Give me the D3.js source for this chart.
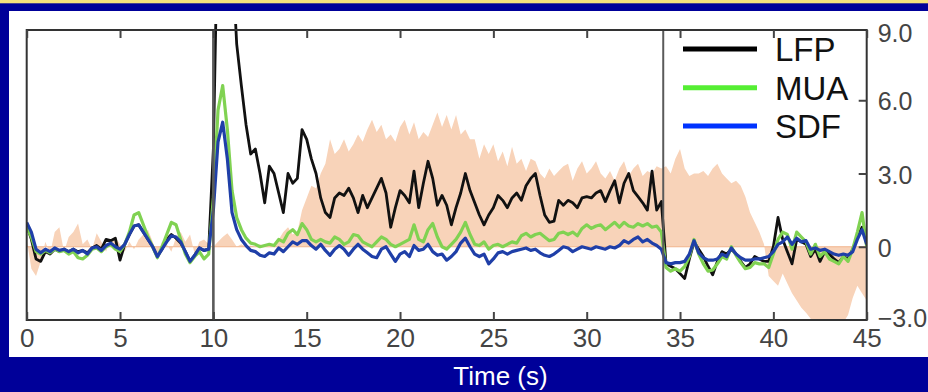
<!DOCTYPE html>
<html><head><meta charset="utf-8">
<script src="https://cdn.jsdelivr.net/npm/d3@7"></script>
<style>html,body{margin:0;padding:0;background:#000099;} svg{display:block;}</style>
</head><body><svg id="c" width="928" height="392"></svg>
<script>
// ---------- data ----------
const xTicks = [0,5,10,15,20,25,30,35,40,45];
const yTicks = [-3,0,3,6,9];
const yTickLabels = ["\u22123.0","0","3.0","6.0","9.0"];
const seriesNames = ["LFP","MUA","SDF"];
const markerTimes = [10, 34.1];
const sampleStep = 0.25; // seconds between samples, t = 0 .. 45

const lfp = [
 0.9,0.3,-0.5,-0.6, -0.2,-0.3,-0.1,-0.2, -0.1,-0.2,-0.1,-0.2, -0.15,-0.25,-0.05,0.05, -0.1,0.3,0.25,0.35,
 -0.55,0.1,0.5,0.85, 0.9,0.6,0.3,0.0, -0.4,-0.1,0.3,0.5, 0.35,0.15,-0.2,-0.6, -0.35,-0.05,-0.15,-0.1,
 4.0,14,20,18, 12,8.3,6.6,5.0, 3.8,4.0,3.0,1.8, 3.3,3.0,2.2,1.4, 3.0,2.6,2.8,4.8,
 4.4,3.6,3.0,2.0, 1.4,1.2,2.0,2.2, 2.1,2.4,2.0,1.4, 2.1,1.6,2.0,2.4, 2.8,2.2,0.8,1.6,
 2.3,2.1,1.8,3.1, 1.6,2.6,3.5,2.8, 1.7,2.1,1.7,0.9, 1.6,2.2,3.0,2.3, 1.8,1.3,0.9,1.3,
 1.6,2.1,1.9,1.6, 2.0,2.2,1.9,2.5, 2.8,3.0,2.1,1.3, 1.0,1.05,1.9,1.7, 1.9,1.8,1.6,2.0,
 2.05,2.0,2.2,2.3, 1.85,2.3,2.7,1.8, 2.6,3.0,2.3,2.05, 1.8,1.5,3.1,1.5, 1.85,-0.7,-0.8,-0.9,
 -1.1,-1.3,-0.5,0.2, -0.1,-0.4,-0.8,-1.15, -0.6,-0.2,-0.3,-0.1, -0.3,-0.6,-0.85,-0.7, -0.4,-0.5,-0.6,-0.6,
 0.0,1.2,0.3,-0.2, -0.7,0.3,0.2,0.1, -0.4,-0.1,-0.6,-0.2, -0.3,-0.5,-0.65,-0.4, -0.5,-0.1,0.4,0.8,
 0.2
];
const mua = [
 0.8,0.4,-0.2,-0.3, -0.15,-0.25,-0.1,-0.2, -0.15,-0.3,-0.2,-0.45, -0.5,-0.35,-0.1,-0.05, -0.2,0.0,0.1,-0.1,
 -0.2,0.1,0.6,1.3, 1.4,0.9,0.4,0.0, -0.45,0.0,0.5,1.0, 0.9,0.3,-0.3,-0.65, -0.4,-0.2,-0.5,-0.3,
 2.0,5.6,6.6,4.8, 2.3,1.2,0.7,0.35, 0.15,0.1,0.0,0.05, 0.1,0.05,0.3,0.2, 0.55,0.7,0.5,0.95,
 0.7,0.3,0.2,0.3, 0.2,0.15,0.4,0.3, 0.1,0.2,0.5,0.45, 0.2,0.1,0.0,0.2, 0.4,0.3,0.1,0.0,
 0.1,0.2,0.3,0.9, 0.3,0.2,0.7,0.95, 0.4,0.0,-0.1,0.1, 0.3,0.6,1.0,0.5, 0.1,0.05,0.2,-0.1,
 0.05,0.1,0.0,0.1, 0.2,0.15,0.45,0.55, 0.4,0.5,0.55,0.4, 0.25,0.3,0.55,0.6, 0.5,0.6,0.45,0.75,
 0.9,0.75,0.85,0.9, 0.7,0.85,1.0,0.8, 1.0,0.85,0.8,0.95, 0.85,0.95,0.8,0.85, 0.6,-0.85,-1.0,-0.9,
 -1.0,-0.8,-0.4,0.3, -0.3,-0.7,-1.0,-0.95, -0.7,-0.4,-0.5,0.0, -0.35,-0.65,-0.9,-0.85, -0.65,-0.7,-0.7,-0.85,
 -0.3,0.3,0.6,0.5, -0.1,0.6,0.4,0.2, -0.3,0.1,-0.4,-0.2, -0.5,-0.6,-0.7,-0.4, -0.6,-0.1,0.6,1.4,
 0.0
];
const sdf = [
 1.0,0.6,-0.1,-0.25, -0.1,-0.2,-0.05,-0.15, -0.1,-0.2,-0.1,-0.25, -0.15,-0.3,-0.05,0.0, -0.15,0.05,0.15,0.0,
 -0.1,0.1,0.5,0.85, 0.9,0.6,0.3,0.0, -0.4,-0.1,0.2,0.45, 0.4,0.2,-0.2,-0.6, -0.35,-0.05,-0.15,-0.1,
 1.5,4.3,5.1,3.6, 1.4,0.7,0.3,0.05, -0.15,-0.2,-0.35,-0.4, -0.25,-0.3,-0.05,-0.2, 0.0,0.2,0.1,0.25,
 0.25,0.05,-0.1,0.1, -0.15,-0.35,-0.1,0.05, -0.1,-0.35,-0.1,0.1, -0.1,-0.25,-0.4,-0.45, -0.1,0.0,-0.3,-0.6,
 -0.3,-0.2,-0.4,0.05, -0.15,-0.1,0.1,-0.2, -0.35,-0.3,-0.55,-0.4, -0.2,0.15,0.35,0.0, -0.3,-0.4,-0.3,-0.7,
 -0.5,-0.25,-0.2,-0.3, -0.2,-0.15,-0.1,-0.05, -0.15,-0.1,-0.25,-0.35, -0.4,-0.3,-0.15,0.0, -0.05,-0.2,-0.1,0.0,
 -0.05,-0.1,0.0,-0.05, -0.1,0.0,-0.05,0.05, 0.25,0.15,0.3,0.4, 0.2,0.3,0.15,0.05, -0.1,-0.65,-0.7,-0.65,
 -0.65,-0.6,-0.3,0.25, -0.25,-0.45,-0.55,-0.55, -0.5,-0.3,-0.4,-0.05, -0.3,-0.45,-0.55,-0.55, -0.5,-0.5,-0.45,-0.4,
 -0.2,0.1,0.2,0.4, 0.1,0.35,0.2,0.25, -0.1,-0.05,-0.15,-0.1, -0.2,-0.3,-0.35,-0.3, -0.35,-0.2,0.3,0.7,
 0.1
];
const band = [
 0.3,-0.9,-1.2,-0.6, 0.2,-0.3,0.6,0.8, -0.2,0.4,0.6,0.95, 0.1,0.3,-0.1,0.55, 0.2,-0.2,0.3,0.4,
 0.1,-0.2,0.2,-0.1, 0.3,0.5,0.7,0.2, -0.3,0.2,0.1,-0.2, 0.4,0.6,0.2,0.5, -0.3,0.2,0.3,0.1,
 0.0,0.2,0.4,0.55, 0.3,0.0,0.1,0.0, 0.05,0.0,0.1,0.0, 0.0,0.1,0.3,0.6, 0.8,0.5,0.6,1.5,
 2.0,2.5,2.4,3.0, 3.4,4.4,3.8,4.0, 4.4,3.9,4.2,4.6, 4.3,4.8,5.2,4.7, 5.0,4.4,4.6,4.3,
 4.9,5.2,4.6,5.1, 4.4,4.7,4.5,5.0, 5.5,4.9,5.4,4.8, 5.4,4.6,4.8,4.4, 4.4,3.6,4.2,3.8,
 4.2,3.5,3.9,3.3, 4.1,3.4,3.6,3.1, 3.6,3.5,3.0,2.8, 3.2,2.9,3.1,3.3, 3.4,2.7,3.2,3.5,
 3.0,3.2,3.5,3.0, 2.8,3.1,2.7,3.2, 3.5,2.9,3.2,3.4, 2.9,3.1,3.0,3.3, 3.2,3.3,3.0,3.6,
 4.0,3.2,2.9,3.0, 3.0,3.1,2.9,3.2, 3.4,3.0,2.8,2.6, 2.7,2.5,2.05,1.4, 1.0,0.6,0.1,-1.2,
 -1.4,-1.6,-1.1,-1.5, -1.9,-2.2,-2.5,-2.7, -2.95,-3.3,-3.6,-3.8, -3.7,-3.5,-3.3,-3.1, -2.8,-2.1,-1.6,-1.9,
 -2.2
];

// ---------- layout ----------
const W = 928, H = 392;
const P = {left: 26.7, right: 866.7, top: 30, bottom: 320};
const svg = d3.select("#c");
const font = "'Liberation Sans', Arial, Helvetica, sans-serif";

svg.append("rect").attr("width", W).attr("height", H).attr("fill", "#000099");
svg.append("rect").attr("width", W).attr("height", 3.3).attr("fill", "#f6e27c");
svg.append("rect").attr("x", 9).attr("y", 11).attr("width", W - 9).attr("height", 346).attr("fill", "#ffffff");

const x = d3.scaleLinear().domain([0, 45]).range([P.left, P.right]);
const y = d3.scaleLinear().domain([-3, 9]).range([320, 27]);

const tOf = (d, i) => x(i * sampleStep);

svg.append("clipPath").attr("id", "clip")
  .append("rect").attr("x", P.left).attr("y", 24).attr("width", P.right - P.left).attr("height", P.bottom - 24);

const g = svg.append("g").attr("clip-path", "url(#clip)");

// band (filled between 0 and value)
g.append("path").datum(band)
  .attr("fill", "#f8d3b9")
  .attr("d", d3.area().x(tOf).y0(y(0)).y1(d => y(d)));

// baseline
g.append("line").attr("x1", P.left).attr("x2", P.right).attr("y1", y(0)).attr("y2", y(0))
  .attr("stroke", "#f1b48c").attr("stroke-width", 1.2);

const line = d3.line().x(tOf).y(d => y(d));
const series = [
  {name: "LFP", data: lfp, color: "#111111", w: 2.8},
  {name: "MUA", data: mua, color: "#80d252", w: 3.2},
  {name: "SDF", data: sdf, color: "#1f3fa8", w: 3.2}
];
series.forEach(s => {
  g.append("path").datum(s.data)
    .attr("fill", "none").attr("stroke", s.color).attr("stroke-width", s.w)
    .attr("stroke-linejoin", "round")
    .attr("d", line);
});

// legend
const legendColors = ["#000000", "#55ee33", "#0033ff"];
const legendY = [49, 87.7, 126];
svg.append("rect").attr("x", 665).attr("y", 31).attr("width", P.right - 665 - 1).attr("height", 118).attr("fill", "#ffffff");
seriesNames.forEach((n, i) => {
  svg.append("line").attr("x1", 683).attr("x2", 757).attr("y1", legendY[i]).attr("y2", legendY[i])
    .attr("stroke", legendColors[i]).attr("stroke-width", 5);
  svg.append("text").attr("x", 775).attr("y", legendY[i] + 12.3)
    .attr("font-family", font).attr("font-size", 33).attr("fill", "#111").text(n);
});

// marker lines
svg.selectAll("line.marker").data(markerTimes).enter().append("line").attr("class", "marker")
  .attr("x1", d => x(d)).attr("x2", d => x(d)).attr("y1", P.top).attr("y2", P.bottom)
  .attr("stroke", "#5a5a5a").attr("stroke-width", (d, i) => i === 0 ? 2.6 : 2);

// frame
svg.append("rect").attr("x", P.left).attr("y", P.top).attr("width", P.right - P.left).attr("height", P.bottom - P.top)
  .attr("fill", "none").attr("stroke", "#333").attr("stroke-width", 2);

// axes
const xb = svg.append("g").attr("transform", `translate(0,${P.bottom})`)
  .call(d3.axisBottom(x).tickValues(xTicks).tickSize(-8).tickPadding(9).tickFormat(d3.format("d")));
const xt = svg.append("g").attr("transform", `translate(0,${P.top})`)
  .call(d3.axisTop(x).tickValues(xTicks).tickSize(-8).tickFormat(""));
const yr = svg.append("g").attr("transform", `translate(${P.right},0)`)
  .call(d3.axisRight(y).tickValues(yTicks).tickSize(-8).tickPadding(11)
    .tickFormat((d, i) => yTickLabels[i]));

[xb, xt, yr].forEach(a => {
  a.select(".domain").remove();
  a.selectAll(".tick line").attr("stroke", "#444").attr("stroke-width", 2);
  a.selectAll(".tick text").attr("font-family", font).attr("fill", "#444");
});
xb.selectAll(".tick text").attr("font-size", 26);
yr.selectAll(".tick text").attr("font-size", 25)
  .attr("y", d => Math.max(33.5, Math.min(318, y(d) + 1.5)) - y(d));
yr.selectAll(".tick line").filter(d => d === 9 || d === -3).remove();

// x-axis title
svg.append("text").attr("x", 500.5).attr("y", 385).attr("text-anchor", "middle")
  .attr("font-family", font).attr("font-size", 26).attr("fill", "#ffffff").text("Time (s)");
</script>
</body></html>
